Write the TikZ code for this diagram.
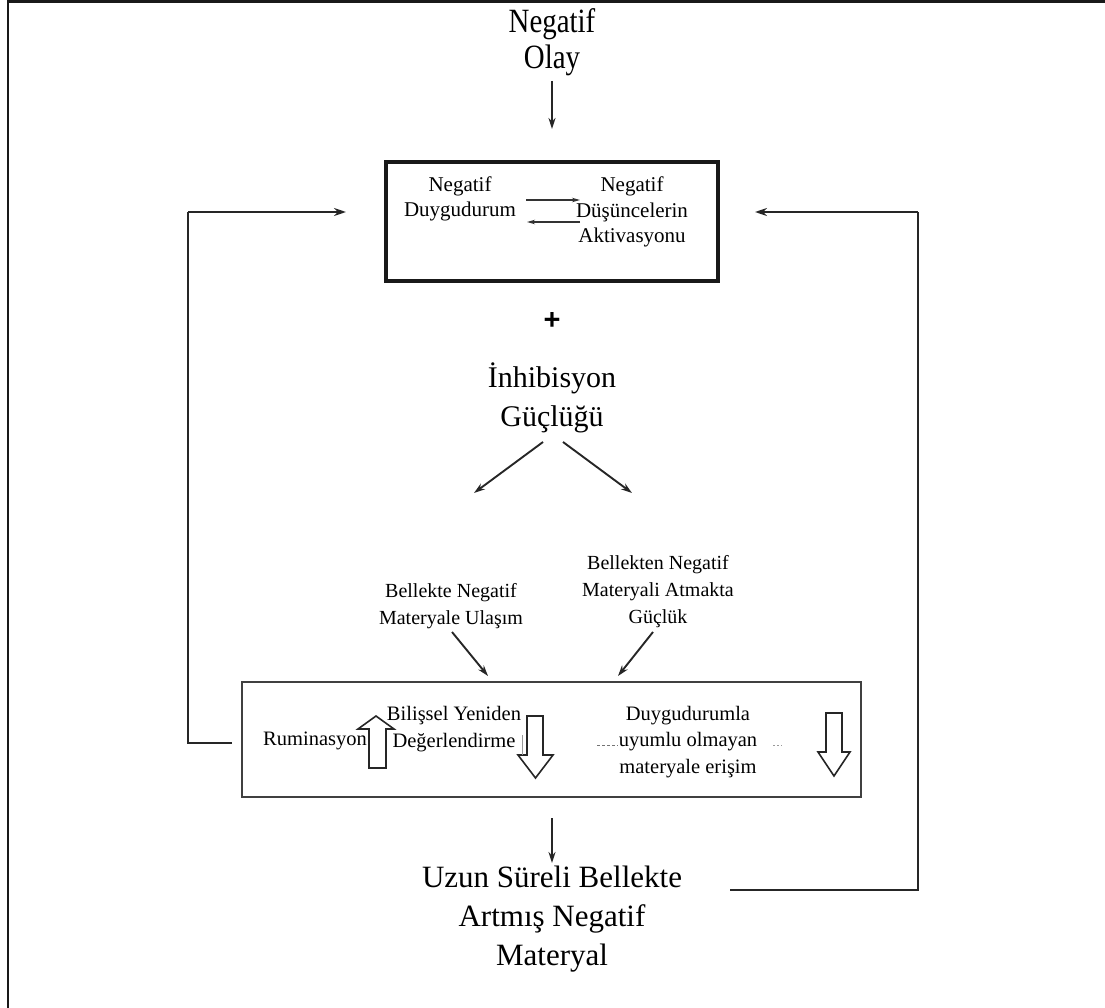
\documentclass[tikz,border=0pt]{standalone}
\usepackage{fontspec}
\usepackage{graphicx}
\setmainfont{Liberation Serif}
\newfontfamily\plusfont{Liberation Sans}
\usetikzlibrary{arrows.meta}
\begin{document}
\begin{tikzpicture}[x=1pt,y=-1pt,
  conn/.style={draw=black!85, line width=1.9pt, -{Stealth[length=11pt,width=7pt]}},
  thinconn/.style={draw=black!80, line width=1.3pt, -{Stealth[length=8pt,width=4.5pt]}},
  loopline/.style={draw=black!85, line width=2.6pt},
  looparrow/.style={draw=black!85, line width=2.6pt, -{Stealth[length=12pt,width=8pt]}},
  bigtxt/.style={font=\fontsize{30}{39}\selectfont, align=center, inner sep=0pt},
  midtxt/.style={font=\fontsize{20}{27}\selectfont, align=center, inner sep=0pt},
  boxtxt/.style={font=\fontsize{21}{25.5}\selectfont, align=center, inner sep=0pt},
  lowtxt/.style={font=\fontsize{20.5}{26.5}\selectfont, align=center, inner sep=0pt},
  blockarrow/.style={draw=black!85, line width=1.6pt, fill=white, line join=miter},
  frameline/.style={draw=black!90, line width=2.5pt}
]
\useasboundingbox (0,0) rectangle (1105,1008);
\draw[frameline] (8,1008) -- (8,1.5) -- (1105,1.5);

% top text
\node[font=\fontsize{34}{36}\selectfont, align=center, inner sep=0pt] (olay) at (552,42)
  {\scalebox{0.85}[1]{Negatif}\\\scalebox{0.85}[1]{Olay}};
\coordinate (olaystart) at (552,81);
\coordinate (olayend) at (552,129);
\draw[conn] (olaystart) -- (olayend);

% top box
\node[draw=black!90, line width=3.2pt, minimum width=332pt, minimum height=119pt, inner sep=0pt] (topbox) at (552,221.5) {};
\node[boxtxt] (nd) at (460,199) {Negatif\\Duygudurum};
\node[boxtxt] (ndz) at (632,212) {Negatif\\Düşüncelerin\\Aktivasyonu};
\coordinate (da1) at (526,200); \coordinate (da2) at (580,200);
\coordinate (db1) at (580,222); \coordinate (db2) at (527,222);
\draw[thinconn] (da1) -- (da2);
\draw[thinconn] (db1) -- (db2);

% plus and inhibition
\node[font=\fontsize{29}{29}\plusfont\bfseries, inner sep=0pt] (plus) at (552,321) {+};
\node[bigtxt] (inh) at (552,398) {İnhibisyon\\Güçlüğü};
\coordinate (s1) at (543,442); \coordinate (e1) at (474,493);
\coordinate (s2) at (563,442); \coordinate (e2) at (632,493);
\draw[conn] (s1) -- (e1);
\draw[conn] (s2) -- (e2);

% memory texts
\node[midtxt] (bel1) at (451,606) {Bellekte Negatif\\Materyale Ulaşım};
\node[midtxt] (bel2) at (658,592) {Bellekten Negatif\\Materyali Atmakta\\Güçlük};
\coordinate (s3) at (452,632); \coordinate (e3) at (488,676);
\coordinate (s4) at (653,632); \coordinate (e4) at (618,676);
\draw[conn] (s3) -- (e3);
\draw[conn] (s4) -- (e4);

% bottom box
\node[draw=black!75, line width=2.2pt, minimum width=619pt, minimum height=115pt, inner sep=0pt] (botbox) at (551.5,739.5) {};
\node[lowtxt] (rum) at (315,741) {Ruminasyon};
\node[lowtxt] (bil) at (454,729) {Bilişsel Yeniden\\Değerlendirme};
\node[lowtxt] (duy) at (688,742) {Duygudurumla\\uyumlu olmayan\\materyale erişim};
% up block arrow
\draw[blockarrow] (376,716) -- (394,729) -- (386,729) -- (386,768) -- (369,768) -- (369,729) -- (358,729) -- cycle;
% down block arrows
\draw[blockarrow] (527,716) -- (543,716) -- (543,755) -- (553,755) -- (535.5,778) -- (518,755) -- (527,755) -- cycle;
\draw[blockarrow] (826,713) -- (842,713) -- (842,752) -- (850,752) -- (834,776) -- (818,752) -- (826,752) -- cycle;
\draw[draw=black!40, line width=0.8pt] (522,735) -- (522,755);
\draw[draw=black!55, line width=0.9pt, dash pattern=on 3pt off 2pt] (597,745) -- (618,745);
\draw[draw=black!40, line width=0.8pt, dash pattern=on 2pt off 2pt] (773,745) -- (782,745);

% bottom text
\coordinate (bs) at (552,818); \coordinate (be) at (552,863);
\draw[conn] (bs) -- (be);
\node[bigtxt, font=\fontsize{31}{39}\selectfont] (uzun) at (552,919) {Uzun Süreli Bellekte\\Artmış Negatif\\Materyal};

% feedback loops
\coordinate (lb) at (232,743);
\coordinate (lc1) at (188,743);
\coordinate (lc2) at (188,212);
\coordinate (lt) at (346,212);
\draw[loopline] (lb) -- (lc1) -- (lc2);
\draw[looparrow] (lc2) -- (lt);
\coordinate (rb) at (730,890);
\coordinate (rc1) at (918,890);
\coordinate (rc2) at (918,212);
\coordinate (rt) at (755,212);
\draw[loopline] (rb) -- (rc1) -- (rc2);
\draw[looparrow] (rc2) -- (rt);
\end{tikzpicture}
\end{document}
